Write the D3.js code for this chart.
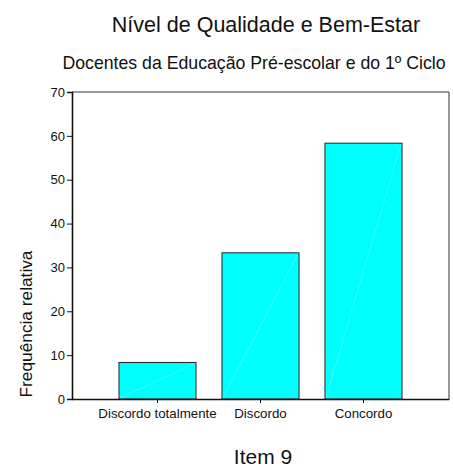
<!DOCTYPE html>
<html>
<head>
<meta charset="utf-8">
<script src="https://cdn.jsdelivr.net/npm/d3@7"></script>
<style>
  html, body { margin: 0; padding: 0; background: #fff; }
  svg { display: block; font-family: "Liberation Sans", Arial, Helvetica, sans-serif; }
</style>
</head>
<body>
<script>
// Item 9 response categories and their relative frequencies (%)
const categories = ["Discordo totalmente", "Discordo", "Concordo"];
const values = [8.33, 33.33, 58.33];
const yTicks = [0, 10, 20, 30, 40, 50, 60, 70];

const title = "Nível de Qualidade e Bem-Estar";
const subtitle = "Docentes da Educação Pré-escolar e do 1º Ciclo";
const xTitle = "Item 9";
const yTitle = "Frequência relativa";

const W = 453, H = 470;
const m = { top: 92, right: 4, bottom: 71, left: 72 };

const svg = d3.select("body").append("svg")
  .attr("width", W).attr("height", H);

const x = d3.scaleBand()
  .domain(categories)
  .range([m.left, W - m.right])
  .paddingInner(0.252)
  .paddingOuter(0.456);

const y = d3.scaleLinear()
  .domain([0, 70])
  .range([H - m.bottom, m.top]);

// plot frame (top and right edges)
svg.append("path")
  .attr("d", `M${m.left},${m.top}H${W - m.right}V${H - m.bottom}`)
  .attr("fill", "none").attr("stroke", "#333").attr("stroke-width", 1);

// bars
const bars = svg.append("g");
bars.selectAll("rect").data(values).join("rect")
  .attr("x", (d, i) => x(categories[i]))
  .attr("y", d => y(d))
  .attr("width", x.bandwidth())
  .attr("height", d => y(0) - y(d))
  .attr("fill", "#00ffff")
  .attr("stroke", "#222")
  .attr("stroke-width", 1);

// faint diagonal sheen across each bar
bars.selectAll("line").data(values).join("line")
  .attr("x1", (d, i) => x(categories[i]) + 1)
  .attr("y1", y(0) - 1)
  .attr("x2", (d, i) => x(categories[i]) + x.bandwidth() - 1)
  .attr("y2", d => y(d) + 1)
  .attr("stroke", "rgba(255,255,255,0.35)")
  .attr("stroke-width", 0.6);

// y axis
const yAxis = svg.append("g")
  .attr("transform", `translate(${m.left},0)`)
  .call(d3.axisLeft(y).tickValues(yTicks).tickSize(5).tickPadding(2));
yAxis.select(".domain").attr("stroke", "#111").attr("stroke-width", 1.6);
yAxis.selectAll(".tick line").attr("stroke", "#111");
yAxis.selectAll(".tick text")
  .attr("font-size", 13).attr("fill", "#111")
  .attr("font-family", "Liberation Sans, Arial, sans-serif");

// x axis
const xAxis = svg.append("g")
  .attr("transform", `translate(0,${H - m.bottom})`)
  .call(d3.axisBottom(x).tickSize(4).tickPadding(6).tickSizeOuter(0));
xAxis.select(".domain").attr("stroke", "#111").attr("stroke-width", 1.6);
xAxis.selectAll(".tick line").attr("stroke", "#111");
xAxis.selectAll(".tick text")
  .attr("font-size", 13.3).attr("fill", "#111")
  .attr("font-family", "Liberation Sans, Arial, sans-serif");

// titles
svg.append("text").attr("x", 266).attr("y", 32)
  .attr("text-anchor", "middle").attr("font-size", 21.5).attr("fill", "#111")
  .text(title);
svg.append("text").attr("x", 254).attr("y", 69)
  .attr("text-anchor", "middle").attr("font-size", 17.7).attr("fill", "#111")
  .text(subtitle);
svg.append("text").attr("x", 263).attr("y", 464)
  .attr("text-anchor", "middle").attr("font-size", 21).attr("fill", "#111")
  .text(xTitle);
svg.append("text")
  .attr("transform", `translate(32,324) rotate(-90)`)
  .attr("text-anchor", "middle").attr("font-size", 17.3).attr("fill", "#111")
  .text(yTitle);
</script>
</body>
</html>
